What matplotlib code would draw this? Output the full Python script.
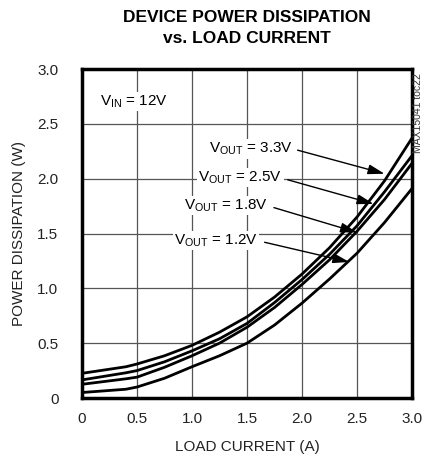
import matplotlib
matplotlib.use("Agg")
import matplotlib.pyplot as plt
from matplotlib import font_manager

names = {f.name for f in font_manager.fontManager.ttflist}
FONT = "Liberation Sans Narrow" if "Liberation Sans Narrow" in names else "Liberation Sans"
plt.rcParams['font.family'] = [FONT, 'DejaVu Sans']

load_current = [0.0, 0.4, 0.5, 0.75, 1.0, 1.25, 1.5, 1.75, 2.0, 2.25, 2.5, 2.75, 3.0]
p_33 = [0.225, 0.285, 0.31, 0.385, 0.48, 0.60, 0.74, 0.92, 1.13, 1.37, 1.65, 1.98, 2.37]
p_25 = [0.165, 0.23, 0.25, 0.33, 0.43, 0.54, 0.68, 0.87, 1.08, 1.31, 1.57, 1.88, 2.21]
p_18 = [0.125, 0.175, 0.19, 0.28, 0.385, 0.50, 0.645, 0.825, 1.035, 1.26, 1.52, 1.81, 2.14]
p_12 = [0.05, 0.08, 0.10, 0.18, 0.285, 0.385, 0.50, 0.665, 0.865, 1.085, 1.32, 1.60, 1.91]

labels = ["$\\mathregular{V_{OUT}}$ = 3.3V", "$\\mathregular{V_{OUT}}$ = 2.5V",
          "$\\mathregular{V_{OUT}}$ = 1.8V", "$\\mathregular{V_{OUT}}$ = 1.2V"]
label_xy = [(1.92, 2.27), (1.82, 2.01), (1.69, 1.755), (1.60, 1.436)]
arrow_tail = [(1.96, 2.26), (1.87, 1.99), (1.745, 1.736), (1.66, 1.42)]
arrow_head = [(2.75, 2.045), (2.65, 1.77), (2.50, 1.51), (2.43, 1.24)]

xticks = [0, 0.5, 1.0, 1.5, 2.0, 2.5, 3.0]
xticklabels = ["0", "0.5", "1.0", "1.5", "2.0", "2.5", "3.0"]
yticks = [0, 0.5, 1.0, 1.5, 2.0, 2.5, 3.0]
yticklabels = ["0", "0.5", "1.0", "1.5", "2.0", "2.5", "3.0"]

fig = plt.figure(figsize=(4.24, 4.58), dpi=100)
ax = fig.add_axes([82/424, 1 - 398/458, 330/424, 329/458])

for y in (p_33, p_25, p_18, p_12):
    ax.plot(load_current, y, color='black', lw=2.0, solid_joinstyle='round', zorder=3)

ax.set_xlim(0, 3.0)
ax.set_ylim(0, 3.0)
ax.set_xticks(xticks)
ax.set_xticklabels(xticklabels)
ax.set_yticks(yticks)
ax.set_yticklabels(yticklabels)
ax.tick_params(length=0, labelsize=11, pad=10, colors='#222222')
ax.tick_params(axis='y', pad=17)
ax.grid(True, color='#555555', lw=0.9)
ax.set_axisbelow(True)
for s in ax.spines.values():
    s.set_linewidth(2.5)
    s.set_color('black')

ax.set_xlabel("LOAD CURRENT (A)", fontsize=11, labelpad=10, color='#222222')
ax.set_ylabel("POWER DISSIPATION (W)", fontsize=11, labelpad=8, color='#222222')

fig.text(247/424, 1 - 28/458, "DEVICE POWER DISSIPATION\nvs. LOAD CURRENT", ha='center', va='center',
         fontsize=12.5, fontweight='bold', linespacing=1.45)

ax.text(0.16, 2.70, "$\\mathregular{V_{IN}}$ = 12V", fontsize=11, ha='left', va='center', zorder=5,
        bbox=dict(facecolor='white', edgecolor='none', pad=1))

for lab, xy, tail, head in zip(labels, label_xy, arrow_tail, arrow_head):
    ax.text(xy[0], xy[1], lab, fontsize=11, ha='right', va='center', zorder=5,
            bbox=dict(facecolor='white', edgecolor='none', pad=1))
    ax.annotate("", xy=head, xytext=tail, zorder=6,
                arrowprops=dict(arrowstyle='-|>,head_length=1.0,head_width=0.3', color='black', lw=1.0,
                                shrinkA=0, shrinkB=0))

fig.text(418/424, 1 - 113/458, "MAX15041 toc22", rotation=90, ha='center', va='center', fontsize=7.5,
         color='#333333')

fig.savefig("out.png", dpi=100)
